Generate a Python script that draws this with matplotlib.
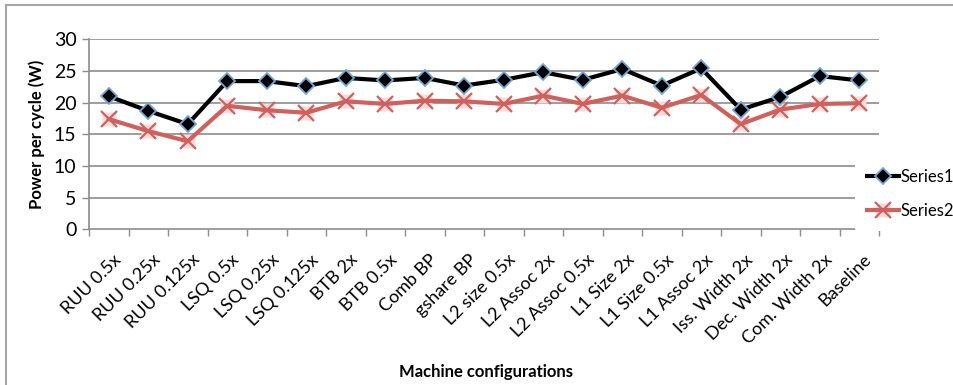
import numpy as np
from matplotlib import pyplot as plt
from matplotlib.lines import Line2D

# machine configurations on the x axis
configs = ['RUU 0.5x', 'RUU 0.25x', 'RUU 0.125x', 'LSQ 0.5x', 'LSQ 0.25x',
           'LSQ 0.125x', 'BTB 2x', 'BTB 0.5x', 'Comb BP', 'gshare BP',
           'L2 size 0.5x', 'L2 Assoc 2x', 'L2 Assoc 0.5x', 'L1 Size 2x',
           'L1 Size 0.5x', 'L1 Assoc 2x', 'Iss. Width 2x', 'Dec. Width 2x',
           'Com. Width 2x', 'Baseline']

series1 = [21.0, 18.7, 16.6, 23.4, 23.4, 22.6, 23.9, 23.5, 23.9, 22.7,
           23.6, 24.8, 23.6, 25.3, 22.7, 25.4, 18.9, 20.9, 24.2, 23.5]
series2 = [17.4, 15.5, 13.9, 19.5, 18.8, 18.4, 20.2, 19.8, 20.3, 20.2,
           19.8, 21.1, 19.8, 21.1, 19.2, 21.2, 16.6, 18.9, 19.8, 19.9]

yticks = [0, 5, 10, 15, 20, 25, 30]

FONT = ['Lato', 'DejaVu Sans']
plt.rcParams['font.family'] = FONT

fig = plt.figure(figsize=(9.54, 3.85), dpi=100)
ax = fig.add_axes([89 / 954, 1 - 229.3 / 385, 790 / 954, 190 / 385])

x = np.arange(len(configs)) + 0.5
grid_c = '#8c8c8c'

ax.plot(x, series1, color='black', lw=3, marker='D', ms=8.5,
        mfc='black', mec='#6fa8dc', mew=1.3, zorder=4, label='Series1')
# pale square behind each x marker
sq, = ax.plot(x, series2, ls='none', marker='s', ms=10, mfc='#f3dcdb',
              mec='none', zorder=2)
s2, = ax.plot(x, series2, color='#d0605c', lw=3, marker='x', ms=11,
              mew=1.6, zorder=3)

ax.set_xlim(0, len(configs))
ax.set_ylim(0, 30)
ax.set_yticks(yticks)
ax.set_yticklabels([str(v) for v in yticks], fontsize=14)
ax.set_xticks(x + 0.1)
ax.set_xticklabels(configs, rotation=45, ha='right', rotation_mode='anchor',
                   fontsize=13)
ax.set_xticks(np.arange(len(configs) + 1), minor=True)
ax.tick_params(axis='x', which='major', length=0, pad=16)
ax.tick_params(axis='x', which='minor', length=5, color=grid_c, width=1)
ax.tick_params(axis='y', length=5, color=grid_c, width=1, pad=4)

for v in yticks[1:]:
    ax.axhline(v, color=grid_c, lw=1.2, zorder=1)

for side in ['top', 'right']:
    ax.spines[side].set_visible(False)
for side in ['left', 'bottom']:
    ax.spines[side].set_color(grid_c)
    ax.spines[side].set_linewidth(1.2)

ax.set_ylabel('Power per cycle (W)', fontsize=12, fontweight='bold', labelpad=6)
fig.text(486 / 954, 1 - 372 / 385, 'Machine configurations', fontsize=12,
         fontweight='bold', ha='center', va='center')

leg = ax.legend([Line2D([], [], color='black', lw=3, marker='D', ms=8.5,
                        mfc='black', mec='#6fa8dc', mew=1.3),
                 (sq, s2)], ['Series1', 'Series2'],
                loc='upper left', bbox_to_anchor=(855 / 954, 1 - 156 / 385),
                bbox_transform=fig.transFigure, frameon=True, fontsize=12,
                handlelength=1.9, handletextpad=0.1, labelspacing=1.1,
                borderaxespad=0, borderpad=0.75)
leg.get_frame().set_facecolor('white')
leg.get_frame().set_edgecolor('none')
leg.get_frame().set_alpha(1)
leg.set_zorder(10)

# chart border
fig.add_artist(Line2D([6 / 954, 6 / 954], [0, 1 - 5 / 385],
                      transform=fig.transFigure, color='#a6a6a6', lw=1.5))
fig.add_artist(Line2D([6 / 954, 1], [1 - 5 / 385, 1 - 5 / 385],
                      transform=fig.transFigure, color='#a6a6a6', lw=1.5))

fig.savefig('out.png', dpi=100)
